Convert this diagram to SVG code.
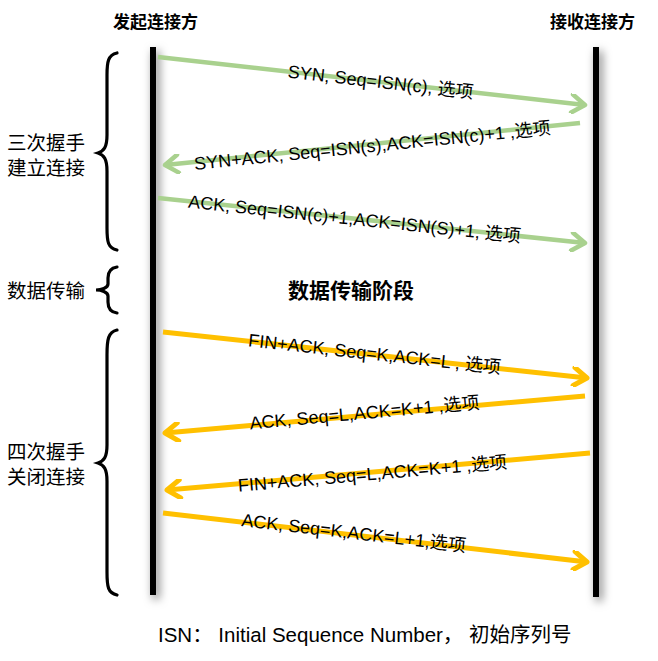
<svg xmlns="http://www.w3.org/2000/svg" width="658" height="661" viewBox="0 0 658 661">
<style>
.lbl{font-family:"Liberation Sans","Noto Sans CJK SC",sans-serif;font-size:18px;fill:#000;text-anchor:middle}
.side{font-family:"Liberation Sans","Noto Sans CJK SC",sans-serif;font-size:19.5px;fill:#000}
.hdr{font-family:"Noto Sans CJK SC",sans-serif;font-size:17px;font-weight:bold;fill:#000}
.g{stroke:#a9d18e;stroke-width:4.5;fill:none}
.o{stroke:#ffc000;stroke-width:5;fill:none}
.brace{stroke:#000;stroke-width:3.2;fill:none;stroke-linecap:round}
.life{fill:#000}
</style>
<defs>
<filter id="sh" filterUnits="userSpaceOnUse" x="120" y="20" width="520" height="620">
<feDropShadow dx="3" dy="4" stdDeviation="5" flood-color="#000" flood-opacity="0.55"/>
</filter>
<marker id="ag" markerUnits="userSpaceOnUse" viewBox="-16 -10 20 20" refX="0" refY="0" markerWidth="20" markerHeight="20" orient="auto">
<path d="M-13,-9 L0,0 L-13,9" fill="none" stroke="#a9d18e" stroke-width="4.5" stroke-linecap="round" stroke-linejoin="round"/>
</marker>
<marker id="ao" markerUnits="userSpaceOnUse" viewBox="-16 -10 20 20" refX="0" refY="0" markerWidth="20" markerHeight="20" orient="auto">
<path d="M-13,-9 L0,0 L-13,9" fill="none" stroke="#ffc000" stroke-width="5" stroke-linecap="round" stroke-linejoin="round"/>
</marker>
</defs>
<rect width="658" height="661" fill="#fff"/>

<g id="client">
<rect class="life" x="150" y="47" width="6" height="548" filter="url(#sh)"/>
<text class="hdr" x="113" y="28">发起连接方</text>
</g>
<g id="server">
<rect class="life" x="593" y="47" width="6" height="550" filter="url(#sh)"/>
<text class="hdr" x="550" y="28">接收连接方</text>
</g>

<g id="phase-handshake">
<path class="brace" d="M117,53 C108,55 107,62 107,75 L107,135 C107,147 104,151 98,153 C104,155 107,159 107,171 L107,228 C107,242 108,248 117,250"/>
<text class="side" x="7" y="150">三次握手</text>
<text class="side" x="7" y="175">建立连接</text>
</g>
<g id="phase-data">
<path class="brace" d="M117,267 C110,268 108,272 108,278 L108,284 C108,288 101,290 96,290 C101,290 108,292 108,296 L108,302 C108,308 110,312 117,313"/>
<text class="side" x="7" y="298">数据传输</text>
<text x="288" y="298" style="font-family:'Noto Sans CJK SC',sans-serif;font-size:21px;font-weight:bold">数据传输阶段</text>
</g>
<g id="phase-close">
<path class="brace" d="M117,330 C108,332 107,340 107,355 L107,445 C107,457 104,461 98,463 C104,465 107,469 107,481 L107,572 C107,587 108,593 117,595"/>
<text class="side" x="7" y="459">四次握手</text>
<text class="side" x="7" y="484">关闭连接</text>
</g>

<g id="connectors">
<line class="g" x1="158" y1="57" x2="585" y2="105" marker-end="url(#ag)"/>
<line class="g" x1="580" y1="123" x2="165" y2="165" marker-end="url(#ag)"/>
<line class="g" x1="158" y1="198" x2="585" y2="243" marker-end="url(#ag)"/>
<line class="o" x1="163" y1="332" x2="587" y2="378" marker-end="url(#ao)"/>
<line class="o" x1="585" y1="396" x2="165" y2="433" marker-end="url(#ao)"/>
<line class="o" x1="590" y1="453" x2="167" y2="490" marker-end="url(#ao)"/>
<line class="o" x1="163" y1="513" x2="587" y2="562" marker-end="url(#ao)"/>
</g>

<g id="labels">
<text class="lbl" transform="translate(380,88) rotate(6.4)">SYN, Seq=ISN(c), 选项</text>
<text class="lbl" transform="translate(373,152) rotate(-5.75)">SYN+ACK, Seq=ISN(s),ACK=ISN(c)+1 ,选项</text>
<text class="lbl" transform="translate(354,225) rotate(6)">ACK, Seq=ISN(c)+1,ACK=ISN(S)+1, 选项</text>
<text class="lbl" transform="translate(374,360) rotate(6.2)">FIN+ACK, Seq=K,ACK=L , 选项</text>
<text class="lbl" transform="translate(365,419) rotate(-5.2)">ACK, Seq=L,ACK=K+1 ,选项</text>
<text class="lbl" transform="translate(373,480) rotate(-5)">FIN+ACK, Seq=L,ACK=K+1 ,选项</text>
<text class="lbl" transform="translate(353,539) rotate(6.6)">ACK, Seq=K,ACK=L+1,选项</text>
</g>

<text x="158" y="642" style="font-family:'Liberation Sans','Noto Sans CJK SC',sans-serif;font-size:20.5px">ISN： Initial Sequence Number， 初始序列号</text>
</svg>
